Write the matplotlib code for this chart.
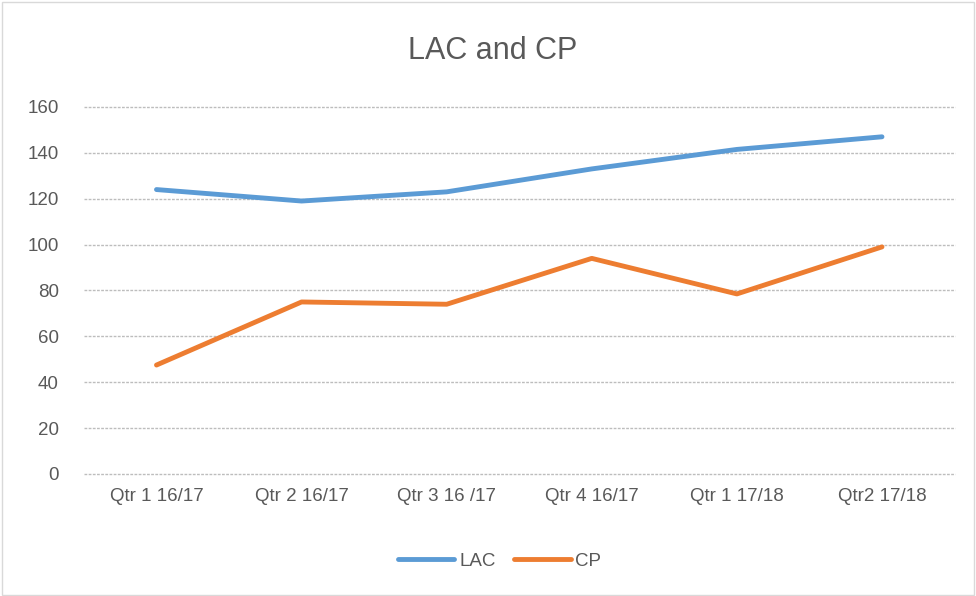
import matplotlib
matplotlib.use("Agg")
import matplotlib.pyplot as plt
from matplotlib.patches import Rectangle

categories = ["Qtr 1 16/17", "Qtr 2 16/17", "Qtr 3 16 /17", "Qtr 4 16/17", "Qtr 1 17/18", "Qtr2 17/18"]
lac = [124, 119, 123, 133, 141.5, 147]
cp = [47.5, 75, 74, 94, 78.5, 99]
yticks = [0, 20, 40, 60, 80, 100, 120, 140, 160]

plt.rcParams['font.family'] = ['Liberation Sans', 'DejaVu Sans']

fig = plt.figure(figsize=(9.76, 5.96), dpi=100)
fig.patches.append(Rectangle((0.002, 0.002), 0.996, 0.994, transform=fig.transFigure,
                             fill=False, edgecolor='#d9d9d9', linewidth=1))
ax = fig.add_axes([0.086, 0.2047, 0.892, 0.6158])

x = list(range(len(categories)))
ax.plot(x, lac, color='#5b9bd5', linewidth=3.5, solid_capstyle='round', label='LAC')
ax.plot(x, cp, color='#ed7d31', linewidth=3.5, solid_capstyle='round', label='CP')

ax.set_xlim(-0.5, len(categories) - 0.5)
ax.set_ylim(0, 160)
ax.set_yticks(yticks)
ax.set_xticks(x)
ax.set_xticklabels(categories)
ax.tick_params(axis='both', length=0, labelsize=13.5, colors='#595959', pad=10)
ax.tick_params(axis='y', pad=18)
ax.yaxis.grid(True, color='#bdbdbd', linestyle=(0, (2, 1)), linewidth=1)
for gl in ax.get_ygridlines():
    gl.set_clip_on(False)
ax.set_axisbelow(True)
for s in ax.spines.values():
    s.set_visible(False)

fig.text(0.505, 0.915, "LAC and CP", ha='center', va='center', fontsize=22, color='#595959')
fig.legend(loc='center', bbox_to_anchor=(0.512, 0.058), ncol=2, frameon=False,
           fontsize=13.5, labelcolor='#595959', handlelength=3.0, handletextpad=0.25,
           columnspacing=1.0)

fig.savefig("out.png", dpi=100, facecolor='white')
